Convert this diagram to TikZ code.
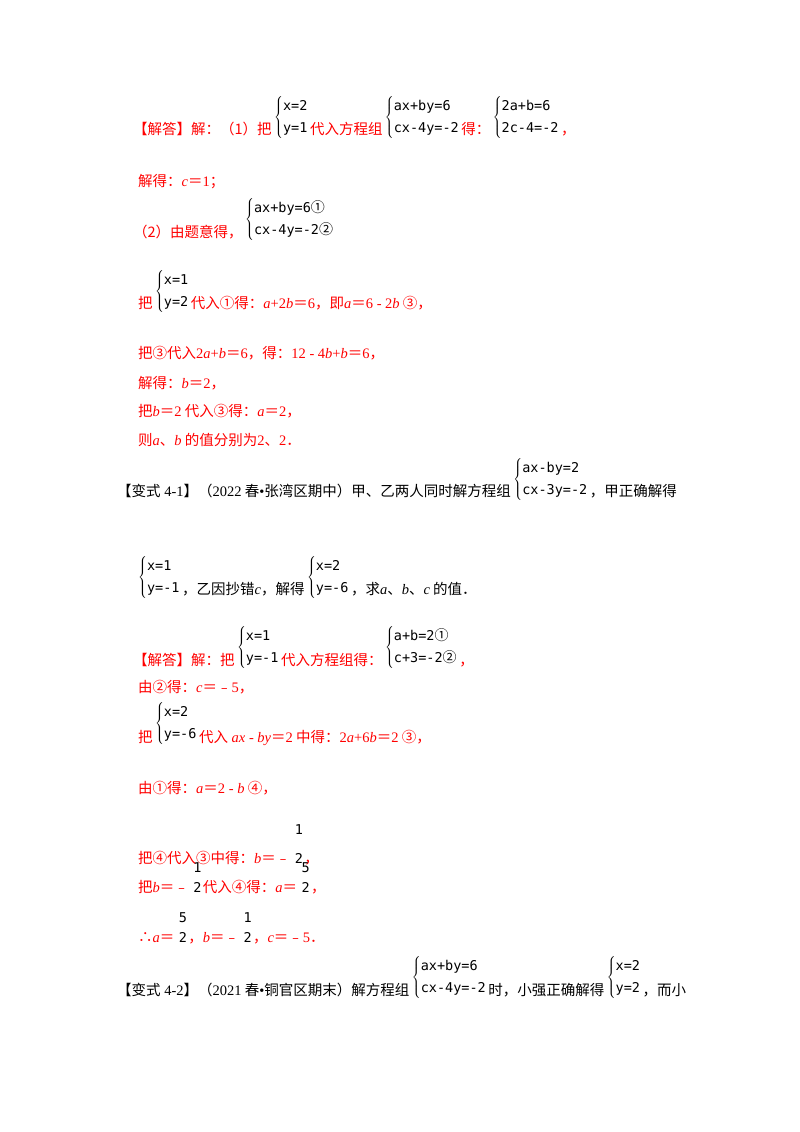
\documentclass[tikz,border=0pt]{standalone}
\usepackage{fontspec}
\setmainfont{Noto Sans CJK SC}
\newfontfamily\cjkf{Noto Sans CJK SC}
\newfontfamily\lat{Liberation Serif}
\newfontfamily\eqf{DejaVu Sans Mono}
\definecolor{rd}{RGB}{255,0,0}
\newcommand\vi[1]{{\lat\itshape #1}}
\newcommand\nm[1]{{\lat #1}}
\tikzset{txt/.style={inner sep=0pt,anchor=base west,font=\fontsize{14.5}{16}\selectfont},
 red/.style={text=rd}, sysbox/.style={inner sep=0pt,anchor=west,font=\eqf\fontsize{13.5}{15}\selectfont}}
\newcommand\tx[5][]{\node[txt,#1] (#2) at (#3,#4) {#5};}
\newcommand\ta[5][]{\node[txt,#1] (#2) at ([xshift=1pt]#3.east |- 0,#4) {#5};}
\newcommand\sysn[5]{\node[sysbox] (#1) at (#2,#3) {$\left\{\vcenter{\hbox{\def\arraystretch{1.45}\begin{tabular}{@{}l@{}}#4\\#5\end{tabular}}}\right.$};}
% system after node: name, prev, centre y, l1, l2
\newcommand\sysa[5]{\node[sysbox] (#1) at ([xshift=2pt]#2.east |- 0,#3) {$\left\{\vcenter{\hbox{\def\arraystretch{1.45}\begin{tabular}{@{}l@{}}#4\\#5\end{tabular}}}\right.$};}
% fraction after node: name, prev, numerator y, denominator y, num, den
\newcommand\frc[6]{\node[sysbox,anchor=base west] (#1) at ([xshift=4pt]#2.east |- 0,#4) {#6};
 \node[sysbox,anchor=base] (#1n) at (#1.base |- 0,#3) {#5};}
\newcommand\ci[1]{{\cjkf\fontsize{14}{16}\selectfont #1}}
\begin{document}
\begin{tikzpicture}[x=1pt,y=-1pt]
\useasboundingbox[fill=white] (0,0) rectangle (800,1132);
\tx[red]{a1}{133}{134}{【解答】解：（1）把}
\sysa{s1}{a1}{117}{x=2}{y=1}
\ta[red]{a2}{s1}{134}{代入方程组}
\sysa{s2}{a2}{117}{ax+by=6}{cx-4y=-2}
\ta[red]{a3}{s2}{134}{得：}
\sysa{s3}{a3}{117}{2a+b=6}{2c-4=-2}
\ta[red]{a4}{s3}{134}{，}
\tx[red]{b1}{138}{186}{解得：\vi{c}＝\nm{1}；}
\tx[red]{c1}{133}{237}{（2）由题意得，}
\sysa{s4}{c1}{219}{ax+by=6\ci{①}}{cx-4y=-2\ci{②}}
\tx[red]{d0}{138}{308}{把}
\sysa{s5}{d0}{291}{x=1}{y=2}
\ta[red]{d1}{s5}{308}{代入①得：\vi{a}\nm{+2}\vi{b}＝\nm{6}，即\vi{a}＝\nm{6 - 2}\vi{b} ③，}
\tx[red]{e1}{138}{358}{把③代入\nm{2}\vi{a}\nm{+}\vi{b}＝\nm{6}，得：\nm{12 - 4}\vi{b}\nm{+}\vi{b}＝\nm{6}，}
\tx[red]{f1}{138}{388}{解得：\vi{b}＝\nm{2}，}
\tx[red]{g1}{138}{416}{把\vi{b}＝\nm{2} 代入③得：\vi{a}＝\nm{2}，}
\tx[red]{h1}{138}{445}{则\vi{a}、\vi{b} 的值分别为\nm{2}、\nm{2}．}
\tx{i1}{117}{496}{【变式\nm{ 4-1}】（\nm{2022} 春\nm{•}张湾区期中）甲、乙两人同时解方程组}
\sysa{s6}{i1}{479}{ax-by=2}{cx-3y=-2}
\ta{i2}{s6}{496}{，甲正确解得}
\sysn{s7}{138}{577}{x=1}{y=-1}
\ta{j1}{s7}{594}{，乙因抄错\vi{c}，解得}
\sysa{s8}{j1}{577}{x=2}{y=-6}
\ta{j2}{s8}{594}{，求\vi{a}、\vi{b}、\vi{c} 的值．}
\tx[red]{k1}{133}{665}{【解答】解：把}
\sysa{s9}{k1}{647}{x=1}{y=-1}
\ta[red]{k2}{s9}{665}{代入方程组得：}
\sysa{s10}{k2}{647}{a+b=2\ci{①}}{c+3=-2\ci{②}}
\ta[red]{k3}{s10}{665}{，}
\tx[red]{l1}{138}{692}{由②得：\vi{c}＝﹣\nm{5}，}
\tx[red]{m0}{138}{742}{把}
\sysa{s11}{m0}{723}{x=2}{y=-6}
\ta[red]{m1}{s11}{742}{代入\nm{ }\vi{ax}\nm{ - }\vi{by}＝\nm{2} 中得：\nm{2}\vi{a}\nm{+6}\vi{b}＝\nm{2} ③，}
\tx[red]{n1}{138}{793}{由①得：\vi{a}＝\nm{2 - }\vi{b} ④，}
\tx[red]{o1}{138}{863}{把④代入③中得：\vi{b}＝﹣}
\frc{o2}{o1}{834}{863}{1}{2}
\ta[red]{o4}{o2}{863}{，}
\tx[red]{p1}{138}{892}{把\vi{b}＝﹣}
\frc{p2}{p1}{872}{892}{1}{2}
\ta[red]{p4}{p2}{892}{代入④得：\vi{a}＝}
\frc{p5}{p4}{872}{892}{5}{2}
\ta[red]{p7}{p5}{892}{，}
\tx[red]{q1}{138}{942}{∴\vi{a}＝}
\frc{q2}{q1}{922}{942}{5}{2}
\ta[red]{q4}{q2}{942}{，\vi{b}＝﹣}
\frc{q5}{q4}{922}{942}{1}{2}
\ta[red]{q7}{q5}{942}{，\vi{c}＝﹣\nm{5}．}
\tx{r1}{117}{995}{【变式\nm{ 4-2}】（\nm{2021} 春\nm{•}铜官区期末）解方程组}
\sysa{s12}{r1}{977}{ax+by=6}{cx-4y=-2}
\ta{r2}{s12}{995}{时，小强正确解得}
\sysa{s13}{r2}{977}{x=2}{y=2}
\ta{r3}{s13}{995}{，而小}
\end{tikzpicture}
\end{document}
